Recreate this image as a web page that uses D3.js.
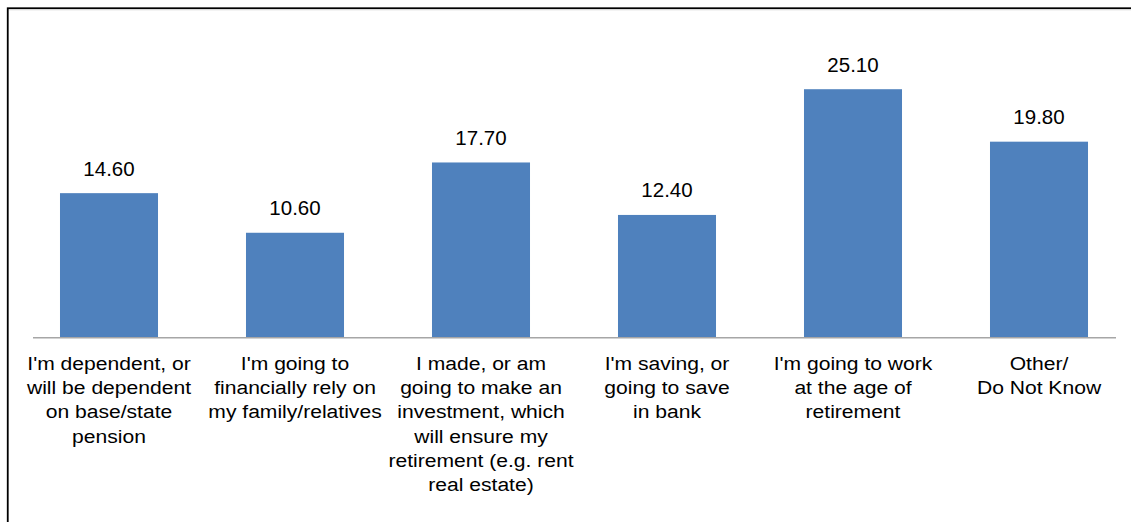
<!DOCTYPE html>
<html>
<head>
<meta charset="utf-8">
<script src="https://cdn.jsdelivr.net/npm/d3@7/dist/d3.min.js"></script>
<style>
  html, body { margin: 0; padding: 0; background: #fff; }
  svg { display: block; }
  text { font-family: "Liberation Sans", Arial, sans-serif; fill: #000; }
</style>
</head>
<body>
<svg id="chart" width="1131" height="522"></svg>
<script>
const categories = [
  "I'm dependent, or will be dependent on base/state pension",
  "I'm going to financially rely on my family/relatives",
  "I made, or am going to make an investment, which will ensure my retirement (e.g. rent real estate)",
  "I'm saving, or going to save in bank",
  "I'm going to work at the age of retirement",
  "Other/ Do Not Know"
];
const labelLines = [
  ["I'm dependent, or", "will be dependent", "on base/state", "pension"],
  ["I'm going to", "financially rely on", "my family/relatives"],
  ["I made, or am", "going to make an", "investment, which", "will ensure my", "retirement (e.g. rent", "real estate)"],
  ["I'm saving, or", "going to save", "in bank"],
  ["I'm going to work", "at the age of", "retirement"],
  ["Other/", "Do Not Know"]
];
const values = [14.60, 10.60, 17.70, 12.40, 25.10, 19.80];

const svg = d3.select("#chart");
const W = 1131, H = 522;

// frame
svg.append("rect")
  .attr("x", 7.75).attr("y", 8.25)
  .attr("width", 1200).attr("height", 600)
  .attr("fill", "none").attr("stroke", "#000").attr("stroke-width", 1.8);
svg.append("line")
  .attr("x1", 9).attr("x2", W).attr("y1", 9.8).attr("y2", 9.8)
  .attr("stroke", "#d8d8d8").attr("stroke-width", 1);

const x = d3.scaleBand()
  .domain(categories)
  .range([16, 1132])
  .paddingInner(0.473)
  .paddingOuter(0.2365);

const y = d3.scaleLinear()
  .domain([0, 30])
  .range([337.7, 40.7]);

// bars
svg.append("g").selectAll("rect")
  .data(values)
  .join("rect")
  .attr("x", (d, i) => x(categories[i]))
  .attr("width", x.bandwidth())
  .attr("y", d => y(d))
  .attr("height", d => y(0) - y(d))
  .attr("fill", "#4F81BD");

// baseline
svg.append("line")
  .attr("x1", 33).attr("x2", 1116)
  .attr("y1", y(0)).attr("y2", y(0))
  .attr("stroke", "#a6a6a6").attr("stroke-width", 1.5);

// value labels
svg.append("g").selectAll("text")
  .data(values)
  .join("text")
  .attr("x", (d, i) => x(categories[i]) + x.bandwidth() / 2)
  .attr("y", d => y(d) - 17.5)
  .attr("text-anchor", "middle")
  .style("font-size", "20.5px")
  .text(d => d3.format(".2f")(d));

// category labels
const lg = svg.append("g");
labelLines.forEach((lines, i) => {
  const cx = x(categories[i]) + x.bandwidth() / 2;
  const t = lg.append("text")
    .attr("transform", `translate(${cx},0) scale(1.11,1)`)
    .attr("text-anchor", "middle")
    .style("font-size", "19px");
  lines.forEach((ln, j) => {
    t.append("tspan").attr("x", 0).attr("y", 370 + j * 24.2).text(ln);
  });
});
</script>
</body>
</html>
